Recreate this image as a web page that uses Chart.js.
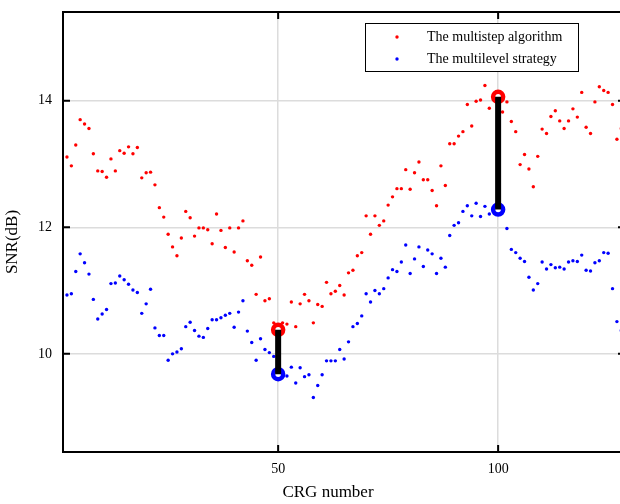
<!DOCTYPE html>
<html>
<head>
<meta charset="utf-8">
<script src="https://cdn.jsdelivr.net/npm/chart.js@4/dist/chart.umd.min.js"></script>
<style>
  html, body { margin: 0; padding: 0; background: #fff; }
  #wrap { width: 620px; height: 504px; }
</style>
</head>
<body>
<div id="wrap"><canvas id="c" width="620" height="504"></canvas></div>
<script>
// CRG numbers and SNR values
const crg = [];
for (let i = 2; i <= 128; i++) crg.push(i);

const multistep = [
  13.11, 12.97, 13.30, 13.70, 13.63, 13.56, 13.16, 12.89, 12.88, 12.79,
  13.08, 12.89, 13.21, 13.17, 13.27, 13.16, 13.26, 12.78, 12.86, 12.87,
  12.67, 12.31, 12.16, 11.89, 11.69, 11.55, 11.83, 12.25, 12.15, 11.86,
  11.99, 11.99, 11.96, 11.74, 12.21, 11.95, 11.68, 11.99, 11.61, 11.99,
  12.10, 11.47, 11.40, 10.94, 11.53, 10.84, 10.87, 10.49, 10.38, 10.49,
  10.47, 10.82, 10.43, 10.79, 10.94, 10.84, 10.49, 10.78, 10.75, 11.13,
  10.95, 10.99, 11.08, 10.93, 11.28, 11.32, 11.55, 11.60, 12.18, 11.89,
  12.18, 12.03, 12.10, 12.35, 12.48, 12.61, 12.61, 12.91, 12.60, 12.86,
  13.03, 12.75, 12.75, 12.58, 12.34, 12.97, 12.66, 13.32, 13.32, 13.44,
  13.51, 13.94, 13.60, 13.99, 14.01, 14.24, 13.88, 14.10, 14.06, 13.82,
  13.98, 13.67, 13.51, 12.99, 13.15, 12.92, 12.64, 13.12, 13.55, 13.48,
  13.75, 13.84, 13.68, 13.56, 13.68, 13.87, 13.74, 14.13, 13.58, 13.48,
  13.98, 14.22, 14.16, 14.13, 13.94, 13.39, 13.56
];

const multilevel = [
  10.93, 10.95, 11.30, 11.58, 11.44, 11.26, 10.86, 10.55, 10.63, 10.70,
  11.11, 11.12, 11.23, 11.17, 11.10, 11.01, 10.97, 10.64, 10.79, 11.02,
  10.41, 10.29, 10.29, 9.90, 10.00, 10.03, 10.08, 10.43, 10.50, 10.37,
  10.28, 10.26, 10.40, 10.54, 10.54, 10.57, 10.61, 10.64, 10.42, 10.66,
  10.84, 10.36, 10.18, 9.90, 10.24, 10.07, 10.02, 9.96, 9.68, 9.72,
  9.65, 9.79, 9.54, 9.78, 9.64, 9.67, 9.31, 9.50, 9.67, 9.89,
  9.89, 9.89, 10.07, 9.92, 10.19, 10.43, 10.48, 10.60, 10.95, 10.82,
  11.00, 10.95, 11.03, 11.20, 11.33, 11.30, 11.45, 11.72, 11.27, 11.50,
  11.69, 11.38, 11.64, 11.58, 11.27, 11.51, 11.37, 11.87, 12.03, 12.07,
  12.25, 12.34, 12.18, 12.38, 12.17, 12.33, 12.21, 12.30, 12.28, 12.25,
  11.98, 11.65, 11.60, 11.51, 11.46, 11.21, 11.01, 11.11, 11.45, 11.34,
  11.41, 11.36, 11.37, 11.34, 11.45, 11.47, 11.46, 11.56, 11.32, 11.31,
  11.44, 11.47, 11.60, 11.59, 11.03, 10.51, 10.37
];

const highlight = [50, 100];
const xTicks = [50, 100];
const yTicks = [10, 12, 14];
const seriesNames = ['The multistep algorithm', 'The multilevel strategy'];

const FONT = '"Liberation Serif", "Times New Roman", serif';

function pts(ys) { return crg.map((x, i) => ({ x: x, y: ys[i] })); }
function at(ys, x) { return ys[crg.indexOf(x)]; }

const datasets = [];
// black bars joining the two methods at the highlighted CRGs
highlight.forEach(h => {
  datasets.push({
    data: [{ x: h, y: at(multistep, h) }, { x: h, y: at(multilevel, h) }],
    showLine: true, borderColor: '#000', borderWidth: 6, pointRadius: 0,
    borderCapStyle: 'butt', order: 0
  });
});
// big circle markers
datasets.push({
  data: highlight.map(h => ({ x: h, y: at(multistep, h) })),
  pointRadius: 5, pointBorderWidth: 4.5, pointBorderColor: '#ff0000',
  pointBackgroundColor: '#ffffff', order: 1
});
datasets.push({
  data: highlight.map(h => ({ x: h, y: at(multilevel, h) })),
  pointRadius: 5, pointBorderWidth: 4.5, pointBorderColor: '#0000ff',
  pointBackgroundColor: '#ffffff', order: 1
});
// the two series
datasets.push({
  label: seriesNames[0], data: pts(multistep),
  pointRadius: 1.7, pointBorderWidth: 0, pointBackgroundColor: '#ff0000', order: 2
});
datasets.push({
  label: seriesNames[1], data: pts(multilevel),
  pointRadius: 1.7, pointBorderWidth: 0, pointBackgroundColor: '#0000ff', order: 2
});

// frame, inward ticks, axis titles, legend
const decor = {
  id: 'decor',
  afterDraw(chart) {
    const ctx = chart.ctx, a = chart.chartArea;
    const xs = chart.scales.x, ys = chart.scales.y;
    ctx.save();
    ctx.strokeStyle = '#000';
    ctx.lineWidth = 2;
    // top edge only; the right edge sits just past the canvas
    ctx.beginPath();
    ctx.moveTo(a.left - 1, a.top); ctx.lineTo(a.right + 1, a.top);
    ctx.stroke();
    const tl = 7;
    ctx.beginPath();
    xTicks.forEach(v => {
      const px = xs.getPixelForValue(v);
      ctx.moveTo(px, a.bottom); ctx.lineTo(px, a.bottom - tl);
      ctx.moveTo(px, a.top); ctx.lineTo(px, a.top + tl);
    });
    yTicks.forEach(v => {
      const py = ys.getPixelForValue(v);
      ctx.moveTo(a.left, py); ctx.lineTo(a.left + tl, py);
      ctx.moveTo(a.right, py); ctx.lineTo(a.right - 2, py);
    });
    ctx.stroke();

    // axis titles
    ctx.fillStyle = '#000';
    ctx.font = '17px ' + FONT;
    ctx.textAlign = 'center';
    ctx.textBaseline = 'middle';
    ctx.fillText('CRG number', 328, 493);
    ctx.save();
    ctx.translate(13, 242);
    ctx.rotate(-Math.PI / 2);
    ctx.fillText('SNR(dB)', 0, 0);
    ctx.restore();

    // legend
    const lx = 365.5, ly = 23.5, lw = 213, lh = 48;
    ctx.fillStyle = '#fff';
    ctx.fillRect(lx, ly, lw, lh);
    ctx.strokeStyle = '#000';
    ctx.lineWidth = 1;
    ctx.strokeRect(lx, ly, lw, lh);
    const colors = ['#ff0000', '#0000ff'];
    const rows = [37, 59];
    ctx.font = '14px ' + FONT;
    ctx.textAlign = 'left';
    seriesNames.forEach((n, i) => {
      ctx.fillStyle = colors[i];
      ctx.beginPath();
      ctx.arc(397, rows[i], 1.7, 0, Math.PI * 2);
      ctx.fill();
      ctx.fillStyle = '#000';
      ctx.fillText(n, 427, rows[i]);
    });
    ctx.restore();
  }
};

const noPad = s => { s.paddingLeft = 0; s.paddingRight = 0; s.paddingTop = 0; s.paddingBottom = 0; };

new Chart(document.getElementById('c'), {
  type: 'scatter',
  data: { datasets: datasets },
  options: {
    responsive: false,
    animation: false,
    layout: { autoPadding: false, padding: { top: 12, right: 0, left: 0, bottom: 0 } },
    plugins: { legend: { display: false }, tooltip: { enabled: false } },
    scales: {
      x: {
        type: 'linear', min: 1.1, max: 127.7,
        afterBuildTicks: s => { s.ticks = xTicks.map(v => ({ value: v })); },
        afterFit: s => { s.height = 52; noPad(s); },
        grid: { color: '#dcdcdc', lineWidth: 1.5, drawTicks: false },
        border: { display: true, color: '#000', width: 2 },
        ticks: { color: '#000', padding: 9, font: { family: FONT, size: 14 } }
      },
      y: {
        type: 'linear', min: 8.45, max: 15.4,
        afterBuildTicks: s => { s.ticks = yTicks.map(v => ({ value: v })); },
        afterFit: s => { s.width = 63; noPad(s); },
        grid: { color: '#dcdcdc', lineWidth: 1.5, drawTicks: false },
        border: { display: true, color: '#000', width: 2 },
        ticks: { color: '#000', padding: 11, font: { family: FONT, size: 14 } }
      }
    }
  },
  plugins: [decor]
});
</script>
</body>
</html>
